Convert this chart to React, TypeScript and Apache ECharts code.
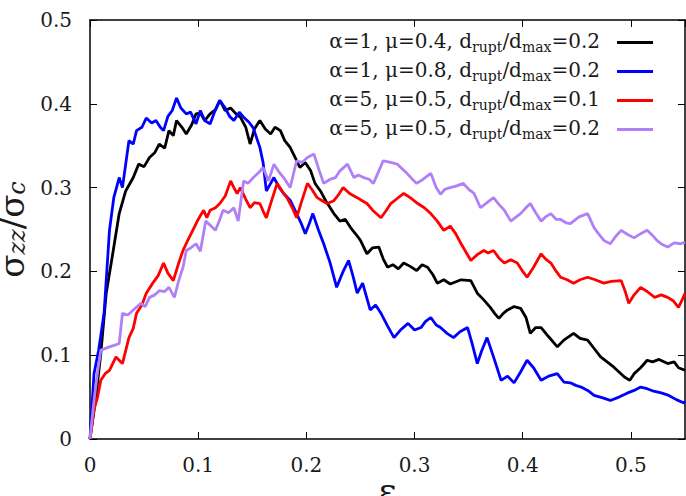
import React, { useEffect, useRef } from 'react';
import * as echarts from 'echarts';

// ---- data ----
const blackEps = [0, 0.0055, 0.01, 0.015, 0.021, 0.027, 0.033, 0.04, 0.045, 0.05, 0.055, 0.06, 0.064, 0.069, 0.073, 0.077, 0.08, 0.085, 0.089, 0.094, 0.098, 0.102, 0.106, 0.111, 0.116, 0.12, 0.125, 0.13, 0.135, 0.139, 0.144, 0.148, 0.152, 0.157, 0.162, 0.167, 0.171, 0.176, 0.18, 0.185, 0.19, 0.194, 0.199, 0.204, 0.208, 0.213, 0.218, 0.222, 0.226, 0.231, 0.236, 0.241, 0.246, 0.25, 0.256, 0.261, 0.267, 0.271, 0.275, 0.28, 0.285, 0.29, 0.296, 0.302, 0.307, 0.312, 0.317, 0.321, 0.327, 0.333, 0.343, 0.352, 0.358, 0.364, 0.37, 0.374, 0.378, 0.382, 0.386, 0.392, 0.398, 0.403, 0.407, 0.412, 0.417, 0.424, 0.432, 0.438, 0.447, 0.453, 0.46, 0.466, 0.472, 0.478, 0.484, 0.489, 0.494, 0.499, 0.503, 0.509, 0.515, 0.52, 0.526, 0.534, 0.54, 0.544, 0.55];
const blackVals = [0, 0.05, 0.102, 0.174, 0.221, 0.269, 0.296, 0.312, 0.328, 0.325, 0.336, 0.342, 0.352, 0.347, 0.368, 0.362, 0.38, 0.372, 0.364, 0.375, 0.388, 0.389, 0.38, 0.388, 0.393, 0.404, 0.392, 0.395, 0.388, 0.384, 0.372, 0.352, 0.37, 0.38, 0.37, 0.364, 0.372, 0.368, 0.356, 0.348, 0.335, 0.324, 0.33, 0.32, 0.305, 0.296, 0.284, 0.276, 0.268, 0.26, 0.262, 0.252, 0.244, 0.237, 0.221, 0.228, 0.229, 0.215, 0.205, 0.208, 0.203, 0.21, 0.206, 0.201, 0.208, 0.205, 0.196, 0.186, 0.19, 0.185, 0.19, 0.189, 0.174, 0.166, 0.157, 0.15, 0.144, 0.15, 0.154, 0.158, 0.156, 0.145, 0.126, 0.133, 0.133, 0.122, 0.11, 0.118, 0.126, 0.12, 0.118, 0.108, 0.098, 0.092, 0.086, 0.08, 0.074, 0.07, 0.078, 0.085, 0.094, 0.092, 0.095, 0.09, 0.092, 0.085, 0.082];

const blueEps = [0, 0.0037, 0.008, 0.013, 0.018, 0.022, 0.027, 0.03, 0.036, 0.04, 0.043, 0.048, 0.052, 0.057, 0.061, 0.065, 0.068, 0.072, 0.076, 0.08, 0.084, 0.089, 0.093, 0.098, 0.102, 0.106, 0.111, 0.115, 0.12, 0.125, 0.129, 0.133, 0.138, 0.142, 0.147, 0.151, 0.157, 0.16, 0.163, 0.167, 0.17, 0.175, 0.179, 0.185, 0.191, 0.195, 0.199, 0.203, 0.206, 0.211, 0.216, 0.222, 0.228, 0.234, 0.239, 0.243, 0.247, 0.252, 0.259, 0.264, 0.269, 0.275, 0.281, 0.287, 0.294, 0.3, 0.306, 0.31, 0.315, 0.32, 0.324, 0.33, 0.336, 0.342, 0.349, 0.353, 0.358, 0.362, 0.367, 0.373, 0.38, 0.386, 0.392, 0.398, 0.404, 0.41, 0.417, 0.424, 0.432, 0.438, 0.444, 0.449, 0.454, 0.46, 0.466, 0.474, 0.481, 0.489, 0.497, 0.503, 0.509, 0.515, 0.521, 0.528, 0.535, 0.542, 0.549, 0.55];
const blueVals = [0, 0.078, 0.106, 0.15, 0.249, 0.288, 0.312, 0.3, 0.356, 0.352, 0.368, 0.372, 0.383, 0.377, 0.38, 0.372, 0.368, 0.385, 0.392, 0.407, 0.395, 0.388, 0.39, 0.376, 0.392, 0.38, 0.376, 0.39, 0.404, 0.395, 0.385, 0.38, 0.39, 0.384, 0.378, 0.371, 0.348, 0.33, 0.296, 0.305, 0.312, 0.3, 0.293, 0.285, 0.269, 0.258, 0.245, 0.258, 0.269, 0.25, 0.233, 0.21, 0.181, 0.2, 0.213, 0.195, 0.174, 0.186, 0.154, 0.16, 0.15, 0.135, 0.121, 0.13, 0.138, 0.13, 0.133, 0.14, 0.145, 0.136, 0.133, 0.126, 0.121, 0.128, 0.133, 0.115, 0.09, 0.105, 0.121, 0.098, 0.07, 0.075, 0.067, 0.08, 0.094, 0.085, 0.07, 0.075, 0.078, 0.068, 0.067, 0.064, 0.062, 0.058, 0.052, 0.049, 0.046, 0.05, 0.055, 0.058, 0.062, 0.06, 0.057, 0.055, 0.052, 0.047, 0.043, 0.045];

const redEps = [0, 0.0037, 0.007, 0.01, 0.014, 0.018, 0.024, 0.027, 0.03, 0.036, 0.04, 0.043, 0.048, 0.052, 0.058, 0.063, 0.068, 0.072, 0.077, 0.082, 0.086, 0.09, 0.095, 0.1, 0.105, 0.108, 0.111, 0.116, 0.12, 0.125, 0.13, 0.133, 0.136, 0.139, 0.144, 0.148, 0.152, 0.157, 0.16, 0.163, 0.168, 0.173, 0.178, 0.182, 0.187, 0.191, 0.196, 0.201, 0.205, 0.21, 0.215, 0.219, 0.225, 0.23, 0.234, 0.24, 0.247, 0.252, 0.256, 0.262, 0.269, 0.274, 0.278, 0.284, 0.29, 0.296, 0.303, 0.309, 0.315, 0.321, 0.327, 0.333, 0.338, 0.343, 0.348, 0.352, 0.358, 0.364, 0.368, 0.373, 0.378, 0.383, 0.389, 0.395, 0.4, 0.404, 0.41, 0.417, 0.421, 0.426, 0.431, 0.435, 0.441, 0.447, 0.453, 0.46, 0.467, 0.475, 0.482, 0.491, 0.495, 0.498, 0.503, 0.509, 0.515, 0.522, 0.528, 0.534, 0.539, 0.544, 0.547, 0.55];
const redVals = [0, 0.035, 0.05, 0.07, 0.078, 0.082, 0.098, 0.094, 0.09, 0.121, 0.132, 0.15, 0.16, 0.174, 0.186, 0.195, 0.21, 0.198, 0.189, 0.21, 0.225, 0.236, 0.249, 0.262, 0.273, 0.264, 0.273, 0.276, 0.281, 0.29, 0.308, 0.3, 0.293, 0.3, 0.286, 0.276, 0.282, 0.281, 0.272, 0.264, 0.285, 0.305, 0.295, 0.288, 0.276, 0.264, 0.285, 0.305, 0.298, 0.288, 0.284, 0.281, 0.284, 0.292, 0.3, 0.293, 0.288, 0.284, 0.281, 0.272, 0.264, 0.273, 0.281, 0.287, 0.293, 0.288, 0.281, 0.276, 0.269, 0.26, 0.249, 0.254, 0.245, 0.233, 0.222, 0.213, 0.22, 0.225, 0.222, 0.225, 0.216, 0.21, 0.214, 0.21, 0.2, 0.193, 0.205, 0.221, 0.215, 0.21, 0.2, 0.193, 0.19, 0.186, 0.19, 0.193, 0.19, 0.186, 0.188, 0.189, 0.175, 0.162, 0.172, 0.181, 0.176, 0.169, 0.172, 0.169, 0.165, 0.157, 0.165, 0.174];

const purpleEps = [0, 0.0037, 0.007, 0.01, 0.018, 0.023, 0.027, 0.03, 0.035, 0.04, 0.047, 0.051, 0.055, 0.06, 0.064, 0.069, 0.073, 0.078, 0.082, 0.086, 0.089, 0.093, 0.098, 0.102, 0.107, 0.112, 0.116, 0.12, 0.123, 0.128, 0.133, 0.137, 0.142, 0.146, 0.151, 0.156, 0.16, 0.165, 0.17, 0.175, 0.179, 0.185, 0.191, 0.196, 0.201, 0.207, 0.212, 0.216, 0.222, 0.227, 0.231, 0.238, 0.244, 0.248, 0.253, 0.258, 0.262, 0.267, 0.271, 0.278, 0.284, 0.289, 0.293, 0.298, 0.302, 0.308, 0.315, 0.32, 0.324, 0.328, 0.333, 0.339, 0.345, 0.35, 0.355, 0.361, 0.367, 0.373, 0.378, 0.383, 0.389, 0.394, 0.398, 0.403, 0.407, 0.412, 0.417, 0.421, 0.426, 0.431, 0.435, 0.44, 0.444, 0.452, 0.46, 0.466, 0.47, 0.475, 0.481, 0.486, 0.491, 0.497, 0.503, 0.509, 0.515, 0.52, 0.524, 0.529, 0.534, 0.54, 0.546, 0.55];
const purpleVals = [0, 0.046, 0.08, 0.106, 0.11, 0.112, 0.114, 0.15, 0.148, 0.154, 0.162, 0.158, 0.169, 0.172, 0.177, 0.176, 0.181, 0.169, 0.189, 0.205, 0.225, 0.228, 0.233, 0.224, 0.26, 0.254, 0.249, 0.262, 0.273, 0.27, 0.276, 0.26, 0.308, 0.305, 0.312, 0.318, 0.324, 0.308, 0.328, 0.318, 0.312, 0.3, 0.332, 0.33, 0.336, 0.34, 0.32, 0.305, 0.31, 0.312, 0.32, 0.328, 0.312, 0.315, 0.312, 0.31, 0.305, 0.32, 0.332, 0.33, 0.328, 0.322, 0.317, 0.31, 0.305, 0.31, 0.317, 0.3, 0.292, 0.298, 0.3, 0.302, 0.305, 0.298, 0.293, 0.276, 0.282, 0.288, 0.28, 0.273, 0.26, 0.265, 0.269, 0.276, 0.281, 0.27, 0.26, 0.265, 0.269, 0.262, 0.262, 0.258, 0.257, 0.265, 0.269, 0.252, 0.245, 0.237, 0.233, 0.242, 0.249, 0.244, 0.24, 0.245, 0.249, 0.243, 0.237, 0.232, 0.229, 0.234, 0.233, 0.235];

const alphaVals = [1, 1, 5, 5];
const muVals = ['0.4', '0.8', '0.5', '0.5'];
const ratioVals = ['0.2', '0.2', '0.1', '0.2'];
const seriesColors = ['#000000', '#0000ff', '#ff0000', '#b080f8'];
const xTickLabels = ['0', '0.1', '0.2', '0.3', '0.4', '0.5'];
const yTickLabels = ['0', '0.1', '0.2', '0.3', '0.4', '0.5'];

export default function App() {
  const ref = useRef<HTMLDivElement>(null);
  useEffect(() => {
    const chart = echarts.init(ref.current!, null, { renderer: 'svg' });
    const serif = 'DejaVu Serif';
    const mk = (eps: number[], vals: number[]) => eps.map((x, i) => [x, vals[i]]);
    const dataSets = [
      mk(blackEps, blackVals),
      mk(blueEps, blueVals),
      mk(redEps, redVals),
      mk(purpleEps, purpleVals),
    ];
    const names = alphaVals.map(
      (a, i) => `α=${a}, μ=${muVals[i]}, drupt/dmax=${ratioVals[i]}`
    );
    const richNames: Record<string, string> = {};
    alphaVals.forEach((a, i) => {
      richNames[names[i]] = `{n|α=${a}, μ=${muVals[i]}, d}{s|rupt}{n|/d}{s|max}{n|=${ratioVals[i]}}{g| }`;
    });
    const textColor = '#1a1a1a';
    const fmtX = (v: number) => {
      const k = Math.round(v * 10);
      if (Math.abs(v * 10 - k) > 1e-6) return '';
      return xTickLabels[k] ?? '';
    };
    const fmtY = (v: number) => {
      const k = Math.round(v * 10);
      return yTickLabels[k] ?? '';
    };
    const axisLine = { show: true, onZero: false, lineStyle: { color: '#000', width: 1.5 } };
    const axisTick = { show: true, inside: true, length: 7, lineStyle: { color: '#000', width: 1 } };

    chart.setOption({
      animation: false,
      backgroundColor: '#fff',
      grid: { left: 90, right: 1, top: 20, bottom: 57, containLabel: false, outerBoundsMode: 'none' },
      legend: {
        orient: 'vertical',
        right: 33,
        top: 29,
        padding: 0,
        align: 'right',
        itemWidth: 36,
        itemHeight: 3,
        itemGap: 4,
        icon: 'rect',
        data: names,
        formatter: (name: string) => richNames[name] ?? name,
        textStyle: {
          color: textColor,
          fontFamily: serif,
          fontSize: 20,
          rich: {
            n: { fontSize: 20, fontFamily: serif, color: textColor, lineHeight: 23, verticalAlign: 'top' },
            s: { fontSize: 14, fontFamily: serif, color: textColor, lineHeight: 14, padding: [11, 0, 0, 0], verticalAlign: 'bottom' },
            g: { fontSize: 14, width: 12, lineHeight: 14 },
          },
        },
      },
      xAxis: [
        {
          type: 'value', min: 0, max: 0.55, interval: 0.1,
          axisLine, axisTick, splitLine: { show: false },
          axisLabel: { formatter: fmtX, fontSize: 20, fontFamily: serif, color: textColor, margin: 16, showMaxLabel: false },
          name: 'ε', nameLocation: 'middle', nameGap: 33, nameMoveOverlap: false,
          nameTextStyle: { fontSize: 36, fontFamily: serif, color: textColor, lineHeight: 36 },
        },
        {
          type: 'value', position: 'top', min: 0, max: 0.55, interval: 0.1,
          axisLine, axisTick, splitLine: { show: false }, axisLabel: { show: false },
        },
      ],
      yAxis: [
        {
          type: 'value', min: 0, max: 0.5, interval: 0.1,
          axisLine, axisTick, splitLine: { show: false },
          axisLabel: { formatter: fmtY, fontSize: 20, fontFamily: serif, color: textColor, margin: 18 },
          name: '{n|σ}{s|zz}{n|/σ}{s|c}', nameLocation: 'middle', nameGap: 25, nameRotate: 90,
          nameTextStyle: {
            fontFamily: serif, color: textColor,
            rich: {
              n: { fontSize: 34, fontFamily: serif, color: textColor, lineHeight: 34, verticalAlign: 'top' },
              s: { fontSize: 24, fontFamily: serif, color: textColor, fontStyle: 'italic', lineHeight: 24, padding: [12, 0, 0, 0], verticalAlign: 'bottom' },
            },
          },
        },
        {
          type: 'value', position: 'right', min: 0, max: 0.5, interval: 0.1,
          axisLine, axisTick, splitLine: { show: false }, axisLabel: { show: false },
        },
      ],
      series: dataSets.map((d, i) => ({
        type: 'line',
        name: names[i],
        data: d,
        xAxisIndex: 0,
        yAxisIndex: 0,
        showSymbol: false,
        symbol: 'none',
        lineStyle: { color: seriesColors[i], width: 2.8 },
        itemStyle: { color: seriesColors[i] },
        clip: true,
      })),
    });
    return () => chart.dispose();
  }, []);
  return (
    <div
      ref={ref}
      style={{ position: 'fixed', left: 0, top: 0, width: 686, height: 496, background: '#fff' }}
    />
  );
}
